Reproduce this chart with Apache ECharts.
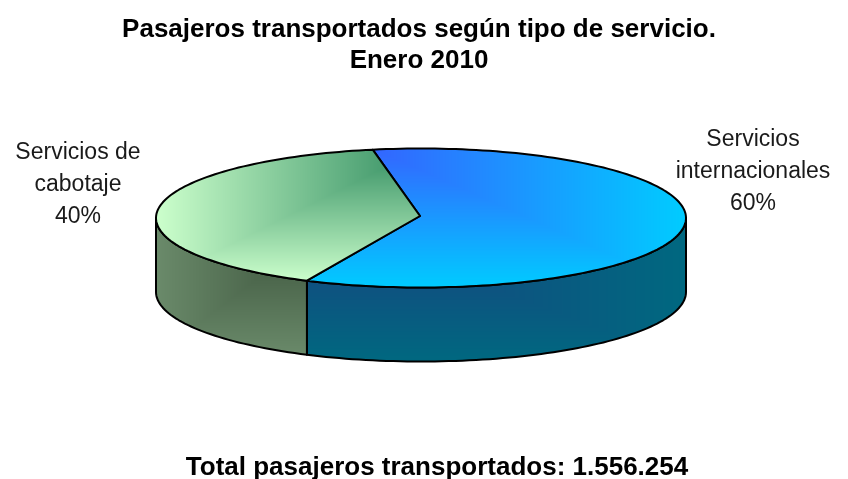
<!DOCTYPE html>
<html><head><meta charset="utf-8">
<style>html,body{margin:0;padding:0;background:#fff}#c{width:848px;height:479px}</style>
<script src="https://cdn.jsdelivr.net/npm/echarts@6/dist/echarts.min.js"></script>
</head><body><div id="c"></div>
<script>
var titleText = 'Pasajeros transportados según tipo de servicio.\nEnero 2010';
var totalText = 'Total pasajeros transportados: 1.556.254';
var categories = ['Servicios\ninternacionales', 'Servicios de\ncabotaje'];
var shares = [60, 40];

var chart = echarts.init(document.getElementById('c'), null, {renderer: 'canvas'});
var W = 848, H = 479;
var geo = {cx: 421, cy: 218, rx: 265, ry: 69.5, depth: 74, start: -100.5};
var palette = [
  {top: [[51, 102, 255], [0, 204, 255]], side: [[26, 63, 128], [0, 104, 128]], origin: [374, 149], far: [686, 288], sOrigin: [307, 218], sFar: [686, 361]},
  {top: [[52, 142, 98], [204, 255, 204]], side: [[62, 86, 62], [106, 138, 106]], origin: [420, 149], far: [156, 281], sOrigin: [307, 240], sFar: [156, 355]}
];
var total = shares.reduce(function (a, b) { return a + b; }, 0);
var rad = function (d) { return d * Math.PI / 180; };
function rim(a, b, dy) {
  var pts = [], n = Math.max(2, Math.ceil(Math.abs(b - a) / 1.5));
  for (var i = 0; i <= n; i++) {
    var t = rad(a + (b - a) * i / n);
    pts.push([geo.cx + geo.rx * Math.cos(t), geo.cy + dy + geo.ry * Math.sin(t)]);
  }
  return pts;
}
// "From corner" gradient fill: t = max(horizontal, vertical distance from the corner)
var fillCache = {};
function cornerFill(colors, o, f) {
  var key = JSON.stringify([colors, o, f]);
  if (fillCache[key]) return fillCache[key];
  var cv = document.createElement('canvas');
  cv.width = W; cv.height = H;
  var ctx = cv.getContext('2d'), img = ctx.createImageData(W, H), d = img.data;
  for (var y = 0; y < H; y++) for (var x = 0; x < W; x++) {
    var t = Math.min(1, Math.max(0, (x - o[0]) / (f[0] - o[0]), (y - o[1]) / (f[1] - o[1])));
    var p = (y * W + x) * 4;
    for (var c = 0; c < 3; c++) d[p + c] = colors[0][c] + (colors[1][c] - colors[0][c]) * t;
    d[p + 3] = 255;
  }
  ctx.putImageData(img, 0, 0);
  return fillCache[key] = {image: cv, repeat: 'no-repeat'};
}
function face(points, colors, o, f) {
  return {type: 'polygon', shape: {points: points},
    style: {fill: cornerFill(colors, o, f), stroke: '#000', lineWidth: 2, lineJoin: 'round'}};
}
function renderSlice(params, api) {
  var i = params.dataIndex, before = 0;
  for (var k = 0; k < i; k++) before += shares[k];
  var a = geo.start + before / total * 360;
  var b = a + api.value(1) / total * 360;
  var p = palette[i], kids = [];
  var lo = Math.max(a, 0), hi = Math.min(b, 180);
  if (hi > lo) kids.push(face(rim(lo, hi, 0).concat(rim(hi, lo, geo.depth)), p.side, p.sOrigin, p.sFar));
  kids.push(face([[geo.cx - 1, geo.cy - 2]].concat(rim(a, b, 0)), p.top, p.origin, p.far));
  return {type: 'group', children: kids};
}
var font = 'Liberation Sans, Arial, sans-serif';
var txt = {fontFamily: font, fontSize: 23, fill: '#1a1a1a', align: 'center', verticalAlign: 'top', lineHeight: 32};
function label(i, x, y) {
  return {type: 'text', x: x, y: y, silent: true,
    style: Object.assign({}, txt, {text: categories[i] + '\n' + shares[i] + '%'})};
}
chart.setOption({
  animation: false,
  backgroundColor: '#fff',
  title: {
    text: titleText, left: 414, top: 9, textAlign: 'center',
    textStyle: {fontFamily: font, fontWeight: 'bold', fontSize: 26, lineHeight: 31, color: '#000'}
  },
  series: [{
    type: 'custom', coordinateSystem: 'none', silent: true,
    data: shares.map(function (v, i) { return [i, v]; }),
    renderItem: renderSlice
  }],
  graphic: [
    label(0, 753, 124),
    label(1, 78, 137),
    {type: 'text', x: 437, y: 455, silent: true,
     style: {text: totalText, fontFamily: font, fontWeight: 'bold', fontSize: 26, fill: '#000', align: 'center', verticalAlign: 'top'}}
  ]
});
</script></body></html>
